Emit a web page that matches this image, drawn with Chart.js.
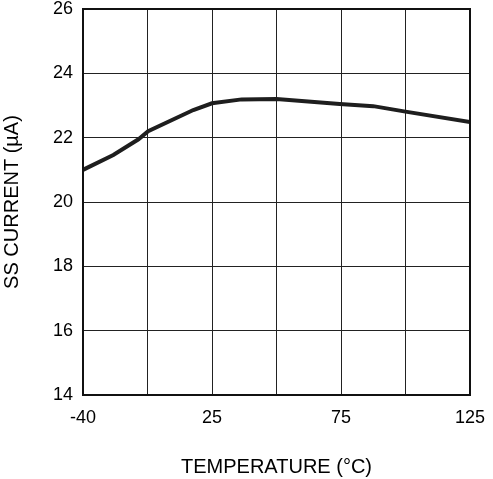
<!DOCTYPE html>
<html>
<head>
<meta charset="utf-8">
<script src="https://cdn.jsdelivr.net/npm/chart.js@4/dist/chart.umd.min.js"></script>
<style>
  html, body { margin: 0; padding: 0; background: #fff; }
  #wrap { width: 493px; height: 479px; }
</style>
</head>
<body>
<div id="wrap"><canvas id="chart" width="493" height="479"></canvas></div>
<script>
// grid columns are evenly spaced, labels are not linear in temperature
const xTickLabels = ['-40', '', '25', '', '75', '', '125'];
// curve points, x in grid-column units (0..6), y in uA
const curveX = [0, 0.47, 0.86, 1.01, 1.71, 2.0, 2.46, 3.0, 3.98, 4.5, 5.0, 6.0];
const curveY = [21.0, 21.46, 21.95, 22.2, 22.86, 23.07, 23.19, 23.2, 23.05, 22.98, 22.81, 22.49];
const yMin = 14, yMax = 26, yStep = 2;

const FONT = 'Liberation Sans, Arial, sans-serif';

const ctx = document.getElementById('chart').getContext('2d');

new Chart(ctx, {
  type: 'line',
  data: {
    datasets: [{
      data: curveX.map((x, i) => ({ x, y: curveY[i] })),
      borderColor: '#1e1e1e',
      borderWidth: 4,
      pointRadius: 0,
      tension: 0,
      fill: false,
    }]
  },
  options: {
    responsive: false,
    animation: false,
    devicePixelRatio: 1,
    layout: { padding: { left: 0, right: 23, top: 9, bottom: 0 } },
    plugins: { legend: { display: false }, tooltip: { enabled: false } },
    scales: {
      x: {
        type: 'linear',
        min: 0, max: 6,
        afterBuildTicks: (s) => { s.ticks = xTickLabels.map((_, i) => ({ value: i })); },
        afterFit: (s) => { s.height = 84; s.paddingLeft = 0; s.paddingRight = 0; },
        grid: { color: '#222', lineWidth: 1, drawTicks: false },
        border: { color: '#111', width: 2 },
        ticks: {
          color: '#000',
          font: { family: FONT, size: 18 },
          padding: 12,
          maxRotation: 0,
          autoSkip: false,
          callback: (v, i) => xTickLabels[i],
        },
        title: {
          display: true,
          text: 'TEMPERATURE (°C)',
          color: '#000',
          font: { family: FONT, size: 20 },
          padding: { top: 0, bottom: 0 },
        },
      },
      y: {
        min: yMin, max: yMax,
        afterFit: (s) => { s.width = 83; s.paddingTop = 0; s.paddingBottom = 0; },
        grid: { color: '#222', lineWidth: 1, drawTicks: false },
        border: { color: '#111', width: 2 },
        ticks: {
          stepSize: yStep,
          color: '#000',
          font: { family: FONT, size: 18 },
          padding: 10,
        },
        title: {
          display: true,
          text: 'SS CURRENT (µA)',
          color: '#000',
          font: { family: FONT, size: 20 },
          padding: 0,
        },
      },
    },
  },
  plugins: [{
    id: 'frame',
    afterDraw(chart) {
      const { ctx, chartArea: a } = chart;
      ctx.save();
      ctx.strokeStyle = '#111';
      ctx.lineWidth = 2;
      ctx.strokeRect(a.left, a.top, a.right - a.left, a.bottom - a.top);
      ctx.restore();
    }
  }]
});
</script>
</body>
</html>
